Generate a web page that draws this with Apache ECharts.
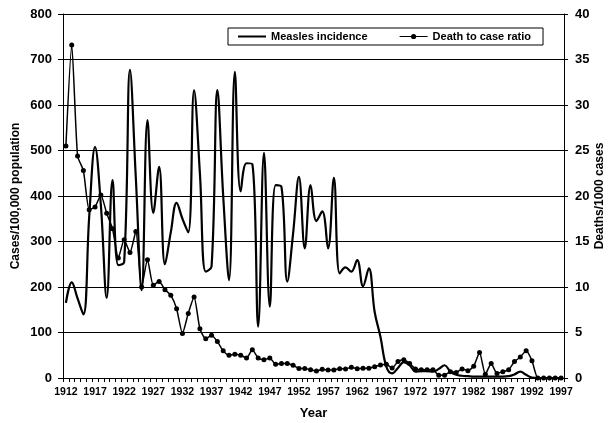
<!DOCTYPE html>
<html><head><meta charset="utf-8">
<script src="https://cdn.jsdelivr.net/npm/echarts@6/dist/echarts.min.js"></script>
<style>html,body{margin:0;padding:0;background:#fff}#c{width:608px;height:423px}</style>
</head><body><div id="c"></div>
<script>
const years = ['1912','1913','1914','1915','1916','1917','1918','1919','1920','1921',
'1922','1923','1924','1925','1926','1927','1928','1929','1930','1931',
'1932','1933','1934','1935','1936','1937','1938','1939','1940','1941',
'1942','1943','1944','1945','1946','1947','1948','1949','1950','1951',
'1952','1953','1954','1955','1956','1957','1958','1959','1960','1961',
'1962','1963','1964','1965','1966','1967','1968','1969','1970','1971',
'1972','1973','1974','1975','1976','1977','1978','1979','1980','1981',
'1982','1983','1984','1985','1986','1987','1988','1989','1990','1991',
'1992','1993','1994','1995','1996','1997'];

// Measles incidence (cases/100,000 population)
const measles = [165,210,175,140,355,508,380,176,435,248,
255,677,440,193,567,363,464,250,320,385,
350,320,632,450,234,245,633,400,215,673,
410,472,470,113,495,157,424,420,212,318,
442,285,424,345,366,285,440,230,243,234,
259,202,241,145,90,25,10,22,35,28,
14,15,15,14,20,28,14,7,5,4,
3,3,3,3,3,3,4,8,14,7,
1,0,0,0,0,0];

// Death to case ratio (deaths/1000 cases)
const ratio = [25.5,36.6,24.4,22.8,18.5,18.8,20.1,18.1,16.4,13.2,
15.2,13.8,16.1,10.0,13.0,10.2,10.6,9.7,9.1,7.6,
4.9,7.1,8.9,5.4,4.3,4.7,4.0,3.0,2.5,2.6,
2.5,2.2,3.1,2.2,2.0,2.2,1.5,1.6,1.6,1.4,
1.05,1.05,0.9,0.77,0.95,0.88,0.88,1.03,1.0,1.17,
1.03,1.07,1.07,1.25,1.43,1.5,1.1,1.8,2.0,1.6,
1.0,0.9,0.9,0.9,0.3,0.3,0.7,0.6,1.0,0.8,
1.3,2.8,0.4,1.6,0.5,0.7,0.9,1.8,2.3,3.0,
1.9,0,0,0,0,0];

const leftTicks = {min:0, max:800, interval:100};
const rightTicks = {min:0, max:40, interval:5};

const FONT = 'Liberation Sans, Arial, sans-serif';
const ICON_LINE = 'path://M0,2H28V4H0Z';
const ICON_DOT_LINE = 'path://M0,2.4H11.6V3.6H0Z M16.4,2.4H28V3.6H16.4Z M16.6,3A2.6,2.6,0,1,1,11.4,3A2.6,2.6,0,1,1,16.6,3Z';
const chart = echarts.init(document.getElementById('c'), null, {renderer:'canvas'});
chart.setOption({
  animation:false,
  backgroundColor:'#fff',
  grid:{left:63, right:44, top:14, bottom:45, containLabel:false, outerBoundsMode:'none'},
  legend:{
    left:228, top:28, orient:'horizontal',
    padding:[3,12,3,10], borderColor:'#000', borderWidth:1, borderRadius:0,
    itemGap:32, itemWidth:28, itemHeight:6, symbolKeepAspect:true,
    textStyle:{fontFamily:FONT, fontWeight:'bold', fontSize:11, color:'#000'},
    data:[{name:'Measles incidence', icon:ICON_LINE},{name:'Death to case ratio', icon:ICON_DOT_LINE}]
  },
  xAxis:{
    type:'category', data:years, boundaryGap:true,
    axisLine:{show:true, lineStyle:{color:'#000', width:1}},
    axisTick:{show:true, interval:0, length:4, lineStyle:{color:'#000'}},
    axisLabel:{interval:4, color:'#000', fontFamily:FONT, fontWeight:'bold', fontSize:10.5, margin:9},
    splitLine:{show:false},
    name:'Year', nameLocation:'middle', nameGap:29, nameMoveOverlap:false,
    nameTextStyle:{fontFamily:FONT, fontWeight:'bold', fontSize:13, color:'#000'}
  },
  yAxis:[
    {
      type:'value', min:leftTicks.min, max:leftTicks.max, interval:leftTicks.interval, position:'left',
      axisLine:{show:true, lineStyle:{color:'#000', width:1}},
      axisTick:{show:true, length:5, lineStyle:{color:'#000'}},
      axisLabel:{color:'#000', fontFamily:FONT, fontWeight:'bold', fontSize:13, margin:11},
      splitLine:{show:true, lineStyle:{color:'#000', width:1}},
      name:'Cases/100,000 population', nameLocation:'middle', nameGap:41, nameRotate:90, nameMoveOverlap:false,
      nameTextStyle:{fontFamily:FONT, fontWeight:'bold', fontSize:12, color:'#000'}
    },
    {
      type:'value', min:rightTicks.min, max:rightTicks.max, interval:rightTicks.interval, position:'right',
      axisLine:{show:true, lineStyle:{color:'#000', width:1}},
      axisTick:{show:true, length:4, lineStyle:{color:'#000'}},
      axisLabel:{color:'#000', fontFamily:FONT, fontWeight:'bold', fontSize:13, margin:11},
      splitLine:{show:false},
      name:'Deaths/1000 cases', nameLocation:'middle', nameGap:30, nameRotate:90, nameMoveOverlap:false,
      nameTextStyle:{fontFamily:FONT, fontWeight:'bold', fontSize:12, color:'#000'}
    }
  ],
  series:[
    {
      name:'Measles incidence', type:'line', yAxisIndex:0, data:measles,
      smooth:0.4, symbol:'none', showSymbol:false,
      lineStyle:{color:'#000', width:2.2}, itemStyle:{color:'#000'}, z:3
    },
    {
      name:'Death to case ratio', type:'line', yAxisIndex:1, data:ratio,
      smooth:0.2, symbol:'circle', symbolSize:5, showSymbol:true, showAllSymbol:true,
      lineStyle:{color:'#000', width:1.5}, itemStyle:{color:'#000'}, z:4
    }
  ]
});
</script>
</body></html>
